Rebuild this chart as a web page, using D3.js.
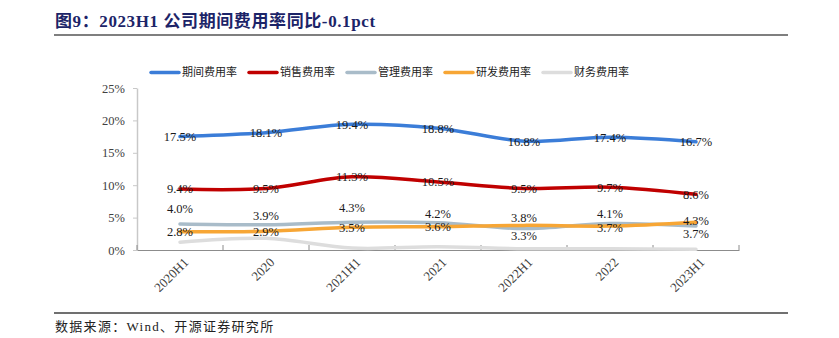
<!DOCTYPE html>
<html><head><meta charset="utf-8">
<script src="https://cdn.jsdelivr.net/npm/d3@7"></script>
<style>
html,body{margin:0;padding:0;background:#fff;}
svg{display:block;}
</style></head>
<body>
<svg id="chart" width="839" height="338"></svg>
<script>
const categories = ['2020H1','2020','2021H1','2021','2022H1','2022','2023H1'];
const periodRate = [17.5,18.1,19.4,18.8,16.8,17.4,16.7];
const salesRate  = [9.4,9.5,11.3,10.5,9.5,9.7,8.6];
const mgmtRate   = [4.0,3.9,4.3,4.2,3.3,4.1,3.7];
const rdRate     = [2.8,2.9,3.5,3.6,3.8,3.7,4.3];
const finRate    = [1.2,1.8,0.3,0.5,0.2,0.2,0.1];
const seriesNames = ['期间费用率','销售费用率','管理费用率','研发费用率','财务费用率'];
const yTicks = [0,5,10,15,20,25];

// layout / style config
const colors = ['#3b7dd8','#c00000','#a9bcc9','#f7a635','#dddddd'];
const labelShift = [
  [0,0,0,0,0,0,0],
  [0,0,0,0,0,0,0],
  [-15,-9,-15,-9,7,-10,8],
  [0,0,0,0,-8,1.5,-2],
  null
];

const series = [periodRate, salesRate, mgmtRate, rdRate, finRate];
const svg = d3.select('#chart');
const serif = '"Times New Roman","Liberation Serif","Noto Sans CJK SC",serif';

// title
svg.append('text').attr('x',55).attr('y',27)
  .attr('font-family', serif).attr('font-weight','bold').attr('font-size',17)
  .attr('letter-spacing',0.6)
  .attr('fill','#1c2468').text('图9：2023H1 公司期间费用率同比-0.1pct');
svg.append('line').attr('x1',54).attr('x2',788).attr('y1',35).attr('y2',35)
  .attr('stroke','#7f7f7f').attr('stroke-width',2);

// footer
svg.append('line').attr('x1',54).attr('x2',788).attr('y1',313).attr('y2',313)
  .attr('stroke','#404040').attr('stroke-width',1.3);
svg.append('text').attr('x',55).attr('y',331)
  .attr('font-family', serif).attr('font-size',13).attr('letter-spacing',1.3)
  .attr('fill','#222').text('数据来源：Wind、开源证券研究所');

// scales
const x = d3.scaleBand().domain(categories).range([137,739]);
const y = d3.scaleLinear().domain([0,25]).range([250,88]);

// y axis
const yAxis = svg.append('g').attr('transform','translate(137,0)')
  .call(d3.axisLeft(y).tickValues(yTicks).tickSize(4).tickSizeOuter(0).tickPadding(8)
    .tickFormat(d => d + '%'));
yAxis.select('.domain').attr('stroke','#c8c8c8').attr('stroke-width',1.5);
yAxis.selectAll('.tick line').attr('stroke','#c8c8c8');
yAxis.selectAll('.tick text').attr('font-family',serif).attr('font-size',12.5).attr('fill','#404040');

// x axis
const xAxis = svg.append('g').attr('transform','translate(0,250)')
  .call(d3.axisBottom(x).tickSize(0).tickSizeOuter(0).tickFormat(''));
xAxis.select('.domain').attr('stroke','#8c8c8c').attr('stroke-width',1.2);
const bounds = categories.map(c => x(c)).concat([x(categories[categories.length-1]) + x.bandwidth()]);
svg.append('g').selectAll('line').data(bounds).join('line')
  .attr('x1',d=>d).attr('x2',d=>d).attr('y1',250).attr('y2',245)
  .attr('stroke','#8c8c8c').attr('stroke-width',1);
svg.append('g').selectAll('text').data(categories).join('text')
  .attr('transform', d => `translate(${x(d) + x.bandwidth()/2 + 6},260) rotate(-45)`)
  .attr('text-anchor','end').attr('dy','0.35em')
  .attr('font-family',serif).attr('font-size',13).attr('fill','#404040')
  .text(d => d);

// lines
const line = d3.line()
  .x((d,i) => x(categories[i]) + x.bandwidth()/2)
  .y(d => y(d))
  .curve(d3.curveCatmullRom.alpha(0.5));
const drawOrder = [4,0,1,2,3];
drawOrder.forEach(k => {
  svg.append('path').datum(series[k]).attr('d', line)
    .attr('fill','none').attr('stroke', colors[k]).attr('stroke-width',3.5)
    .attr('stroke-linecap','round').attr('stroke-linejoin','round');
});

// labels
series.forEach((vals,k) => {
  if (!labelShift[k]) return;
  svg.append('g').selectAll('text').data(vals).join('text')
    .attr('x',(d,i) => x(categories[i]) + x.bandwidth()/2)
    .attr('y',(d,i) => y(d) + labelShift[k][i])
    .attr('dy','0.35em').attr('text-anchor','middle')
    .attr('font-family',serif).attr('font-size',12.5).attr('fill','#1a1a1a')
    .text(d => d.toFixed(1) + '%');
});

// legend
const legend = svg.append('g');
seriesNames.forEach((name,k) => {
  const lx = 151 + k*98;
  legend.append('line').attr('x1',lx).attr('x2',lx+28).attr('y1',72.5).attr('y2',72.5)
    .attr('stroke',colors[k]).attr('stroke-width',3.5).attr('stroke-linecap','round');
  legend.append('text').attr('x',lx+31).attr('y',72.5).attr('dy','0.35em')
    .attr('font-family','"Noto Sans CJK SC",sans-serif').attr('font-size',11).attr('fill','#222')
    .text(name);
});
</script>
</body></html>
